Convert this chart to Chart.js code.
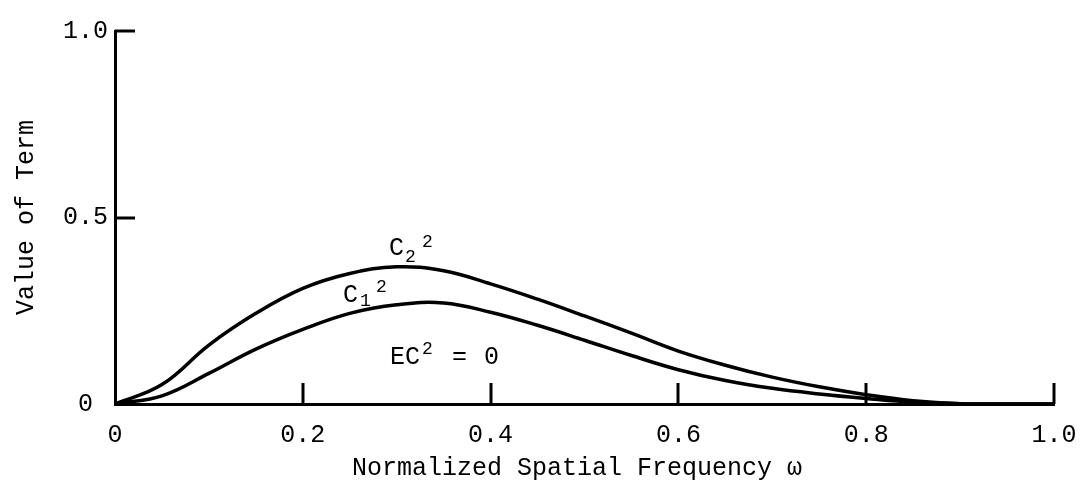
<!DOCTYPE html>
<html>
<head>
<meta charset="utf-8">
<script src="https://cdn.jsdelivr.net/npm/chart.js@4/dist/chart.umd.min.js"></script>
<style>
  html, body { margin: 0; padding: 0; background: #fff; }
  #wrap { width: 1084px; height: 498px; }
</style>
</head>
<body>
<div id="wrap"><canvas id="c" width="1084" height="498"></canvas></div>
<script>
// ---- data ----
const omega = [0, 0.05, 0.1, 0.15, 0.2, 0.25, 0.3, 0.35, 0.4, 0.45, 0.5,
               0.55, 0.6, 0.65, 0.7, 0.75, 0.8, 0.85, 0.9, 0.95, 1.0];
const c2Squared = [0, 0.052, 0.158, 0.243, 0.31, 0.35, 0.368, 0.357, 0.322, 0.281, 0.236,
                   0.19, 0.142, 0.104, 0.072, 0.046, 0.025, 0.009, 0.001, 0, 0];
const c1Squared = [0, 0.022, 0.082, 0.147, 0.2, 0.243, 0.266, 0.271, 0.246, 0.211, 0.171,
                   0.13, 0.092, 0.063, 0.042, 0.027, 0.015, 0.005, 0.001, 0, 0];
const xTickLabels = ['0', '0.2', '0.4', '0.6', '0.8', '1.0'];
const yTickLabels = ['0', '0.5', '1.0'];
const xTitle = 'Normalized Spatial Frequency \u03c9';
const yTitle = 'Value of Term';

const FONT = '"Liberation Mono", "DejaVu Sans Mono", monospace';

function toPoints(xs, ys) { return xs.map((v, i) => ({ x: v, y: ys[i] })); }

// label anchors (data coordinates of the main letter's left baseline)
const curveLabels = [
  { x: 0.2918, y: 0.3995, parts: [
      { t: 'C', dx: 0, dy: 0, big: true },
      { t: '2', dx: 16, dy: 7, big: false },
      { t: '2', dx: 33, dy: -8, big: false } ] },
  { x: 0.2428, y: 0.2735, parts: [
      { t: 'C', dx: 0, dy: 0, big: true },
      { t: '1', dx: 17, dy: 4, big: false },
      { t: '2', dx: 33, dy: -10, big: false } ] },
  { x: 0.2929, y: 0.107, parts: [
      { t: 'EC', dx: 0, dy: 0, big: true },
      { t: '2', dx: 32, dy: -10, big: false },
      { t: '=', dx: 62, dy: 0, big: true },
      { t: '0', dx: 94, dy: 0, big: true } ] }
];

const decorPlugin = {
  id: 'decor',
  afterDraw(chart) {
    const { ctx, chartArea: a, scales: { x, y } } = chart;
    ctx.save();
    ctx.strokeStyle = '#000';
    ctx.lineWidth = 3;
    ctx.lineCap = 'butt';
    // inward tick marks
    x.ticks.forEach(t => {
      if (t.value > 0) {
        const px = Math.round(x.getPixelForValue(t.value));
        ctx.beginPath(); ctx.moveTo(px, a.bottom); ctx.lineTo(px, a.bottom - 21); ctx.stroke();
      }
    });
    y.ticks.forEach(t => {
      if (t.value > 0) {
        const py = Math.round(y.getPixelForValue(t.value));
        ctx.beginPath(); ctx.moveTo(a.left, py); ctx.lineTo(a.left + 20, py); ctx.stroke();
      }
    });
    // curve labels
    ctx.fillStyle = '#000';
    ctx.textBaseline = 'alphabetic';
    ctx.textAlign = 'left';
    curveLabels.forEach(l => {
      const bx = x.getPixelForValue(l.x), by = y.getPixelForValue(l.y);
      l.parts.forEach(p => {
        ctx.font = (p.big ? '25px ' : '18px ') + FONT;
        ctx.fillText(p.t, bx + p.dx, by + p.dy);
      });
    });
    // axis titles
    ctx.font = '25px ' + FONT;
    ctx.textAlign = 'center';
    ctx.fillText(xTitle, 577, 475);
    ctx.save();
    ctx.translate(33, (a.top + a.bottom) / 2);
    ctx.rotate(-Math.PI / 2);
    ctx.font = '25px ' + FONT;
    ctx.fillText(yTitle, 0, 0);
    ctx.restore();
    ctx.restore();
  }
};

new Chart(document.getElementById('c'), {
  type: 'line',
  data: {
    datasets: [
      { label: 'C2^2', data: toPoints(omega, c2Squared), borderColor: '#000', borderWidth: 3.5,
        pointRadius: 0, tension: 0.4, fill: false },
      { label: 'C1^2', data: toPoints(omega, c1Squared), borderColor: '#000', borderWidth: 3.5,
        pointRadius: 0, tension: 0.4, fill: false }
    ]
  },
  options: {
    responsive: false,
    animation: false,
    devicePixelRatio: 1,
    layout: { padding: { top: 31, right: 30, left: 0, bottom: 0 } },
    plugins: { legend: { display: false }, tooltip: { enabled: false } },
    scales: {
      x: {
        type: 'linear', min: 0, max: 1,
        grid: { display: false, drawTicks: true, tickLength: 10 },
        border: { display: true, color: '#000', width: 3 },
        ticks: { stepSize: 0.2, color: '#000', padding: 6, maxRotation: 0,
                 font: { family: FONT, size: 25 },
                 callback: (v, i) => xTickLabels[i] },
        afterFit: s => { s.height = 94; }
      },
      y: {
        type: 'linear', min: 0, max: 1,
        grid: { display: false, drawTicks: false },
        border: { display: true, color: '#000', width: 3 },
        ticks: { stepSize: 0.5, color: '#000', padding: 7,
                 font: { family: FONT, size: 25 },
                 callback: (v, i) => (i === 0 ? yTickLabels[i] + ' ' : yTickLabels[i]) },
        afterFit: s => { s.width = 115; }
      }
    }
  },
  plugins: [decorPlugin]
});
</script>
</body>
</html>
